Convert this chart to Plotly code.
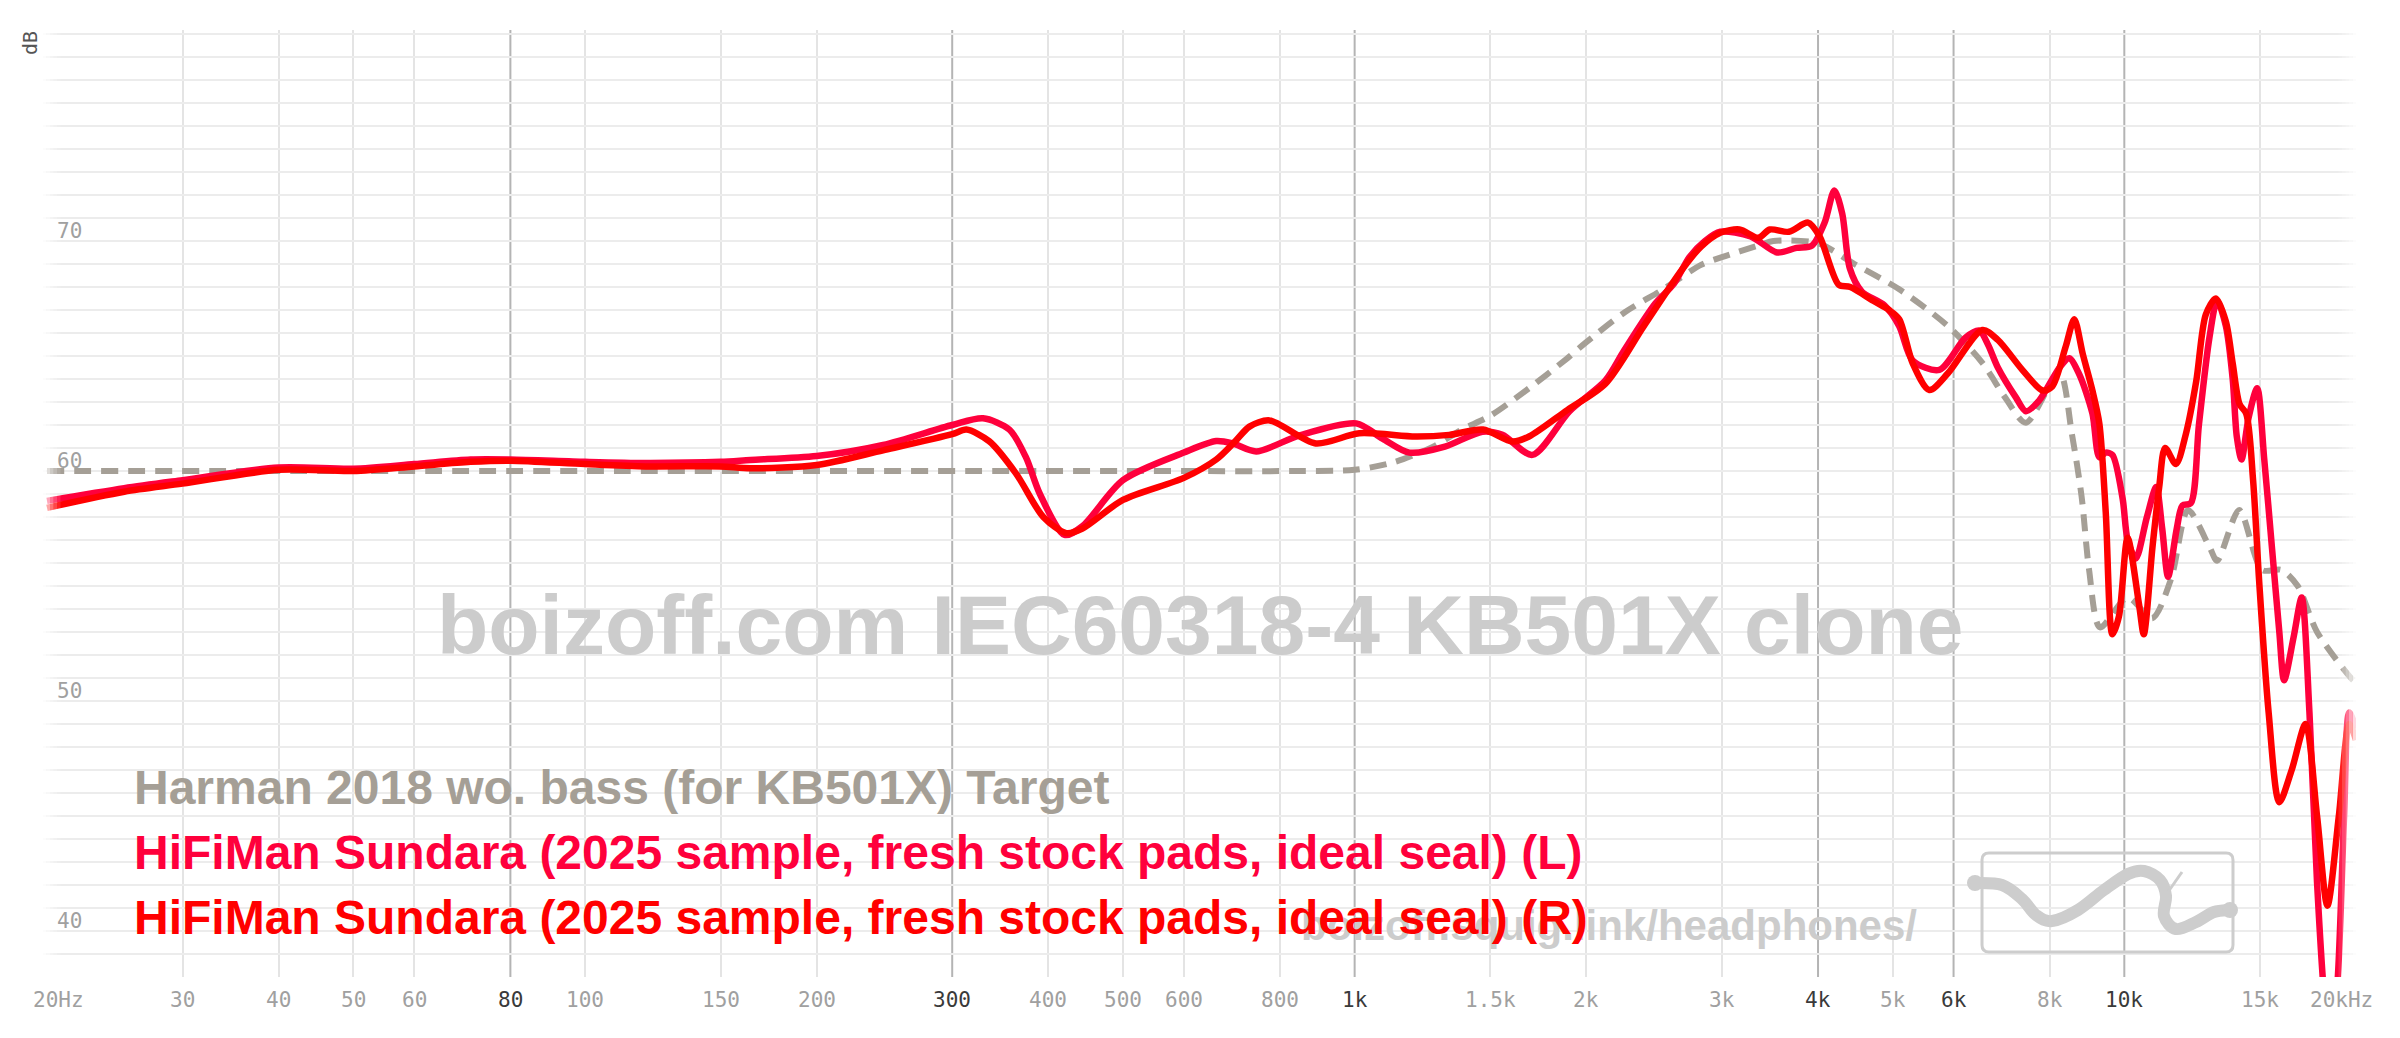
import numpy as np
import plotly.graph_objects as go

# ---------------- data ----------------
TARGET_NAME = "Harman 2018 wo. bass (for KB501X) Target"
L_NAME = "HiFiMan Sundara (2025 sample, fresh stock pads, ideal seal) (L)"
R_NAME = "HiFiMan Sundara (2025 sample, fresh stock pads, ideal seal) (R)"

target_f = [20, 100, 500, 847, 1000, 1129, 1265, 1378, 1500, 1685, 1889, 2000, 2244, 2517,
            2819, 3000, 3346, 3500, 4000, 4460, 5100, 5900, 6540, 7000, 7450, 8230, 8550,
            8800, 9000, 9300, 10100, 10870, 11500, 12100, 12900, 13200, 14100, 15100,
            16000, 16800, 17800, 19700, 20000]
target_db = [60.0, 60.0, 60.0, 60.0, 60.05, 60.4, 61.06, 61.8, 62.4, 63.6, 64.9, 65.6, 66.9, 67.9,
             68.96, 69.3, 69.8, 70.0, 69.9, 69.0, 67.9, 66.3, 64.7, 63.2, 62.1, 64.3, 61.6,
             58.9, 55.7, 53.2, 54.5, 53.6, 55.3, 58.3, 56.7, 56.1, 58.3, 55.7,
             55.7, 55.0, 53.0, 51.0, 50.8]

left_f = [20, 25.2, 30, 40, 50, 60, 71, 80, 100, 120, 150, 164, 200, 244, 300, 329, 356, 374,
          390, 420, 443, 500, 600, 661, 694, 745, 848, 1005, 1087, 1178, 1310, 1466, 1556,
          1702, 1902, 2118, 2240, 2458, 2600, 2722, 2852, 2986, 3270, 3540, 3750, 3928, 4080,
          4200, 4300, 4400, 4560, 4880, 5100, 5310, 5750, 6220, 6480, 6650, 6850, 7230, 7450, 7750,
          8240, 8480, 8740, 9090, 9280, 9460, 9650, 9950, 10100, 10350, 10700, 11000, 11200,
          11400, 11700, 11900, 12200, 12500, 12900, 13200, 13550, 13830, 14000, 14200, 14500,
          14880, 15200, 15560, 15900, 16130, 16600, 17000, 17400, 17800, 18200, 18500, 18900,
          19300, 19600, 20000]
left_db = [58.7, 59.25, 59.6, 60.15, 60.1, 60.3, 60.5, 60.5, 60.4, 60.35, 60.4, 60.48, 60.65, 61.13,
           62.0, 62.29, 61.8, 60.6, 59.0, 57.22, 57.6, 59.6, 60.8, 61.3, 61.2, 60.85, 61.55, 62.07,
           61.41, 60.8, 61.06, 61.71, 61.57, 60.7, 62.6, 63.94, 65.25, 67.28, 68.15, 69.3, 70.0,
           70.4, 70.2, 69.5, 69.7, 69.8, 70.8,
           72.2, 71.2, 68.8, 67.8, 67.2, 66.3, 64.8, 64.4, 65.8,
           66.1, 65.5, 64.5, 63.2, 62.6, 63.06, 64.5, 64.9, 64.2, 62.5, 60.6, 60.8, 60.7, 58.8,
           57.0, 56.2, 58.0, 59.3, 57.5, 55.4, 57.5, 58.5, 58.6, 62.0, 65.8, 67.4, 66.3, 64.0,
           61.5, 60.5, 62.3, 63.6, 60.5, 56.6, 53.0, 50.9, 52.8, 54.5, 49.5, 42.1, 37.0, 35.0,
           37.5, 45.0, 49.5, 48.8]

right_f = [20, 25.2, 30, 40, 50, 60, 71, 80, 100, 120, 150, 164, 200, 244, 300, 313, 335, 363,
           394, 422, 443, 500, 600, 661, 700, 730, 775, 890, 1014, 1200, 1327, 1468, 1603, 1685,
           1889, 2118, 2375, 2662, 2819, 2986, 3163, 3346, 3463, 3666, 3883, 4019, 4256, 4405,
           4718, 4946, 5100, 5310, 5580, 5900, 6540, 6850, 7370, 7830, 8060, 8390, 8610, 8830,
           9090, 9280, 9460, 9650, 9840, 10100, 10450, 10600, 10880, 11100, 11300, 11670, 12020,
           12400, 12760, 13150, 13550, 13830, 14120, 14400, 14700, 14970, 15400, 15900, 16500,
           17200, 17800, 18360, 19000, 19600, 20000]
right_db = [58.4, 59.1, 59.45, 60.05, 60.0, 60.2, 60.4, 60.45, 60.3, 60.2, 60.2, 60.12, 60.26, 60.9,
            61.6, 61.8, 61.3, 59.9, 58.0, 57.3, 57.5, 58.74, 59.7, 60.5, 61.3, 61.93, 62.2, 61.2,
            61.64, 61.5, 61.57, 61.8, 61.28, 61.5, 62.65, 63.8, 66.3, 68.75, 69.76, 70.36, 70.5,
            70.14, 70.5, 70.4, 70.8, 70.2, 68.1, 68.0, 67.4, 67.0, 66.6, 64.68, 63.52, 64.25,
            66.13, 65.7, 64.4, 63.5, 63.67, 65.4, 66.6, 65.1, 63.5, 62.07, 58.2, 52.9, 53.67,
            57.1, 54.2, 52.9, 56.7, 59.3, 61.0, 60.3, 61.6, 63.9, 66.8, 67.5, 66.5, 64.68, 62.9,
            62.5, 59.6, 55.2, 49.5, 45.6, 47.0, 49.0, 45.0, 41.1, 45.0, 49.0, 48.3]

x_tick_vals = [20, 30, 40, 50, 60, 80, 100, 150, 200, 300, 400, 500, 600, 800, 1000, 1500,
               2000, 3000, 4000, 5000, 6000, 8000, 10000, 15000, 20000]
x_tick_text = ["20Hz", "30", "40", "50", "60", "80", "100", "150", "200", "300", "400", "500",
               "600", "800", "1k", "1.5k", "2k", "3k", "4k", "5k", "6k", "8k", "10k", "15k", "20kHz"]
x_dark_ticks = [80, 300, 1000, 4000, 6000, 10000]
y_tick_vals = [40, 50, 60, 70]

WATERMARK = "boizoff.com IEC60318-4 KB501X clone"
SITE = "boizoff.squig.link/headphones/"

# ---------------- styles ----------------
TARGET_COLOR = "#a59f96"
L_COLOR = "#ff003c"
R_COLOR = "#ff0000"
W, H = 2400, 1038
ML, MR, MT, MB = 43, 44, 30, 61
PW = W - ML - MR
PH = H - MT - MB
PX_PER_DB = 23.0
Y0 = 38.0
Y1 = Y0 + PH / PX_PER_DB
X0 = np.log10(20) - 4 / 770
X1 = np.log10(20000)


def pxx(x):
    return (x - ML) / PW


def pxy(y):
    return (H - MB - y) / PH


fig = go.Figure()
fig.add_trace(go.Scatter(x=target_f, y=target_db, mode="lines", name=TARGET_NAME,
                         line=dict(color=TARGET_COLOR, width=6, dash="17px,10px", shape="spline",
                                   smoothing=0.8),
                         hoverinfo="skip"))
fig.add_trace(go.Scatter(x=left_f, y=left_db, mode="lines", name=L_NAME,
                         line=dict(color=L_COLOR, width=6.5, shape="spline", smoothing=0.8),
                         hoverinfo="skip"))
fig.add_trace(go.Scatter(x=right_f, y=right_db, mode="lines", name=R_NAME,
                         line=dict(color=R_COLOR, width=6.5, shape="spline", smoothing=0.8),
                         hoverinfo="skip"))

light_ticks = [v for v in x_tick_vals[1:-1] if v not in x_dark_ticks]

shapes = []
# dark vertical grid lines
for v in x_dark_ticks:
    shapes.append(dict(type="line", xref="x", yref="paper", x0=v, x1=v, y0=0, y1=1,
                       line=dict(color="#b4b4b4", width=2), layer="below"))

# edge fades
for i, a in enumerate([0.85, 0.65, 0.45, 0.28, 0.12]):
    shapes.append(dict(type="rect", xref="paper", yref="paper",
                       x0=pxx(ML + i * 3.5), x1=pxx(ML + (i + 1) * 3.5), y0=0, y1=1,
                       fillcolor=f"rgba(255,255,255,{a})", line=dict(width=0), layer="above"))
    shapes.append(dict(type="rect", xref="paper", yref="paper",
                       x0=pxx(W - MR - (i + 1) * 3.5), x1=pxx(W - MR - i * 3.5), y0=0, y1=1,
                       fillcolor=f"rgba(255,255,255,{a})", line=dict(width=0), layer="above"))


# logo (decoration)
def P(x, y):
    return f"{pxx(x):.5f},{pxy(y):.5f}"


def smooth_path(pts):
    s = "M " + P(*pts[0])
    for i in range(len(pts) - 1):
        p0 = pts[i - 1] if i > 0 else pts[i]
        p1 = pts[i]
        p2 = pts[i + 1]
        p3 = pts[i + 2] if i + 2 < len(pts) else pts[i + 1]
        c1 = (p1[0] + (p2[0] - p0[0]) / 6, p1[1] + (p2[1] - p0[1]) / 6)
        c2 = (p2[0] - (p3[0] - p1[0]) / 6, p2[1] - (p3[1] - p1[1]) / 6)
        s += f" C {P(*c1)} {P(*c2)} {P(*p2)}"
    return s


lx0, lx1, ly0, ly1, r = 1982, 2233, 853, 952, 7
rect = (f"M {P(lx0 + r, ly0)} L {P(lx1 - r, ly0)} Q {P(lx1, ly0)} {P(lx1, ly0 + r)} "
        f"L {P(lx1, ly1 - r)} Q {P(lx1, ly1)} {P(lx1 - r, ly1)} L {P(lx0 + r, ly1)} "
        f"Q {P(lx0, ly1)} {P(lx0, ly1 - r)} L {P(lx0, ly0 + r)} Q {P(lx0, ly0)} {P(lx0 + r, ly0)} Z")
shapes.append(dict(type="path", xref="paper", yref="paper", path=rect,
                   line=dict(color="#cdcdcd", width=3), layer="above"))
squig = [(1975, 883), (2002, 885), (2022, 899), (2036, 915), (2052, 921), (2078, 910),
         (2104, 890), (2128, 874), (2144, 871), (2160, 880), (2166, 896), (2164, 916),
         (2176, 929), (2196, 922), (2214, 912), (2230, 910)]
shapes.append(dict(type="path", xref="paper", yref="paper", path=smooth_path(squig),
                   line=dict(color="#cdcdcd", width=12), layer="above"))
shapes.append(dict(type="line", xref="paper", yref="paper", x0=pxx(2168), y0=pxy(892),
                   x1=pxx(2182), y1=pxy(872), line=dict(color="#cdcdcd", width=3), layer="above"))
for (cx, cy, rr) in [(1975, 883, 8), (2230, 910, 8)]:
    shapes.append(dict(type="circle", xref="paper", yref="paper", x0=pxx(cx - rr), x1=pxx(cx + rr),
                       y0=pxy(cy + rr), y1=pxy(cy - rr), fillcolor="#cdcdcd",
                       line=dict(width=0), layer="above"))

annotations = []
MONO = "DejaVu Sans Mono"
# watermark texts
annotations.append(dict(text=f"<b>{WATERMARK}</b>", xref="paper", yref="paper", x=pxx(1200),
                        y=pxy(625), xanchor="center", yanchor="middle", showarrow=False,
                        font=dict(family="Liberation Sans, Arial", size=84, color="#cccccc")))
annotations.append(dict(text=f"<b>{SITE}</b>", xref="paper", yref="paper", x=pxx(1919),
                        y=pxy(925), xanchor="right", yanchor="middle", showarrow=False,
                        font=dict(family="Liberation Sans, Arial", size=42, color="#cccccc")))

# x tick labels
for v, t in zip(x_tick_vals, x_tick_text):
    shift = 0
    if t == "20Hz":
        shift = 11
    elif t == "20kHz":
        shift = -15
    col = "#3a3a3a" if v in x_dark_ticks else "#a0a0a0"
    annotations.append(dict(text=t, xref="x", yref="paper", x=np.log10(v), y=0, yshift=-23,
                            xshift=shift, xanchor="center", yanchor="middle", showarrow=False,
                            font=dict(family=MONO, size=21, color=col)))
# y tick labels
for v in y_tick_vals:
    annotations.append(dict(text=str(v), xref="paper", yref="y", x=pxx(55), y=v, xanchor="left",
                            yanchor="bottom", yshift=-4, showarrow=False,
                            font=dict(family=MONO, size=21, color="#a0a0a0")))
annotations.append(dict(text="dB", xref="paper", yref="paper", x=pxx(30), y=pxy(43),
                        textangle=-90, xanchor="center", yanchor="middle", showarrow=False,
                        font=dict(family=MONO, size=20, color="#555555")))

# legend texts
for name, col, yc in [(TARGET_NAME, TARGET_COLOR, 787), (L_NAME, L_COLOR, 852), (R_NAME, R_COLOR, 917)]:
    annotations.append(dict(text=f"<b>{name}</b>", xref="paper", yref="paper", x=pxx(132),
                            y=pxy(yc), xanchor="left", yanchor="middle", showarrow=False,
                            font=dict(family="Liberation Sans, Arial", size=48, color=col)))

fig.update_layout(
    width=W, height=H, autosize=False,
    margin=dict(l=ML, r=MR, t=MT, b=MB, pad=0),
    paper_bgcolor="white", plot_bgcolor="white",
    showlegend=False,
    xaxis=dict(type="log", range=[X0, X1], tickvals=light_ticks, showticklabels=False,
               showgrid=True, gridcolor="#e4e4e4", gridwidth=2, zeroline=False,
               showline=False, ticks="", fixedrange=True),
    yaxis=dict(range=[Y0, Y1], tick0=0, dtick=1, showticklabels=False, showgrid=True,
               gridcolor="#ececec", gridwidth=2, zeroline=False, showline=False, ticks="",
               fixedrange=True),
    shapes=shapes,
    annotations=annotations,
)

fig.write_html("out.html", config={"displayModeBar": False, "staticPlot": True},
               post_script="document.body.style.margin='0px';document.body.style.overflow='hidden';")
